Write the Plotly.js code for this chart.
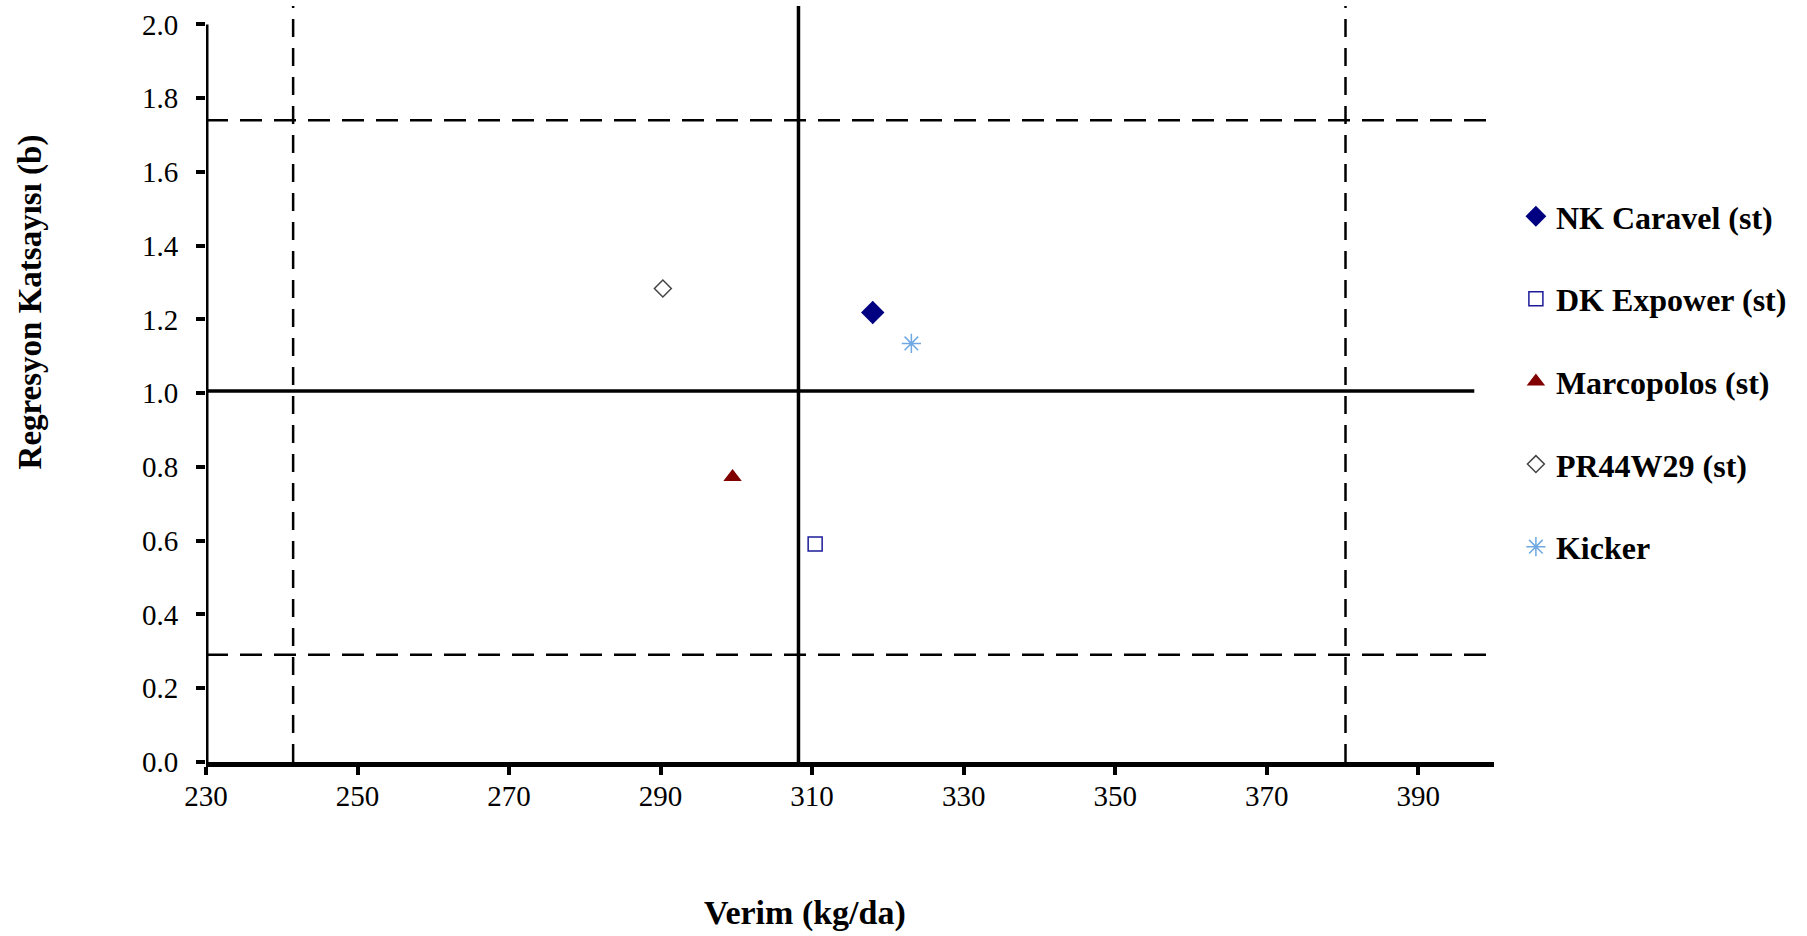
<!DOCTYPE html>
<html>
<head>
<meta charset="utf-8">
<script src="https://cdn.plot.ly/plotly-3.0.1.min.js"></script>
<style>html,body{margin:0;padding:0;background:#fff;}#chart{width:1807px;height:936px;}</style>
</head>
<body>
<div id="chart"></div>
<script>
// Data
const varieties = ["NK Caravel (st)", "DK Expower (st)", "Marcopolos (st)", "PR44W29 (st)", "Kicker"];
const yields = [318.0, 310.4, 299.5, 290.3, 323.1];          // Verim (kg/da)
const coefficients = [1.219, 0.591, 0.773, 1.284, 1.135];    // Regresyon katsayısı (b)
const meanYield = 308.2;                 // solid vertical line
const meanCoef = 1.006;                  // solid horizontal line
const yieldLimits = [241.5, 380.4];      // dashed vertical lines
const coefLimits = [0.291, 1.740];       // dashed horizontal lines
const xTicks = [230, 250, 270, 290, 310, 330, 350, 370, 390];
const yTicks = [0.0, 0.2, 0.4, 0.6, 0.8, 1.0, 1.2, 1.4, 1.6, 1.8, 2.0];
const xTitle = "Verim (kg/da)";
const yTitle = "Regresyon Katsayısı (b)";

const styles = [
  {symbol: "diamond", size: 18, color: "#000080", line: {width: 0}},
  {symbol: "square-open", size: 14, color: "#1c1c9a", line: {width: 1.5}},
  {symbol: "triangle-up", size: 16, color: "#800000", line: {width: 0}},
  {symbol: "diamond-open", size: 13, color: "#444444", line: {width: 1.5}},
  {symbol: "asterisk-open", size: 16, color: "#6fa8e2", line: {width: 1.5}}
];

const traces = varieties.map((name, i) => ({
  type: "scatter",
  mode: "markers",
  name: name,
  legendgroup: "g" + i,
  x: [yields[i]],
  y: [coefficients[i]],
  marker: Object.assign({}, styles[i], {line: Object.assign({color: styles[i].color}, styles[i].line)}),
  hoverinfo: "x+y+name"
}));

const serif = "Liberation Serif, Times New Roman, serif";
const xMin = 230, xMax = 400, yTop = 2.05;
const shapes = [];
// y axis line (stops at 2.0)
shapes.push({type: "line", xref: "x", yref: "y", x0: xMin, x1: xMin, y0: 0, y1: yTicks[yTicks.length - 1], line: {color: "#000", width: 5}});
// dashed vertical lines
yieldLimits.forEach(v => shapes.push({type: "line", xref: "x", yref: "y", x0: v, x1: v, y0: 0, y1: yTop, line: {color: "#000", width: 2.5, dash: "18px,11px"}}));
// dashed horizontal lines
coefLimits.forEach(v => shapes.push({type: "line", xref: "x", yref: "y", x0: xMin, x1: xMax, y0: v, y1: v, line: {color: "#000", width: 2.5, dash: "22px,12px"}}));
// solid reference lines
shapes.push({type: "line", xref: "x", yref: "y", x0: meanYield, x1: meanYield, y0: 0, y1: yTop, line: {color: "#000", width: 3.5}});
shapes.push({type: "line", xref: "x", yref: "y", x0: xMin, x1: 397.4, y0: meanCoef, y1: meanCoef, line: {color: "#000", width: 3.5}});

const layout = {
  width: 1807, height: 936,
  margin: {l: 206, r: 313, t: 6, b: 174},
  paper_bgcolor: "#fff", plot_bgcolor: "#fff",
  font: {family: serif, color: "#000", size: 29},
  showlegend: true,
  legend: {
    x: 1.017, y: 0.758, xanchor: "left", yanchor: "top",
    font: {family: serif, size: 32, color: "#000", weight: "bold"},
    tracegroupgap: 38, itemwidth: 30, bgcolor: "rgba(0,0,0,0)"
  },
  xaxis: {
    range: [xMin, xMax], tickvals: xTicks, ticktext: xTicks.map(String),
    showline: true, linecolor: "#000", linewidth: 5,
    ticks: "outside", ticklen: 8, tickwidth: 4, tickcolor: "#000",
    showgrid: false, zeroline: false, ticklabelstandoff: -4,
    tickfont: {size: 29, family: serif}
  },
  yaxis: {
    range: [0, yTop], tickvals: yTicks, ticktext: yTicks.map(v => v.toFixed(1)),
    showline: false,
    ticks: "outside", ticklen: 9, tickwidth: 4, tickcolor: "#000",
    showgrid: false, zeroline: false, ticklabelstandoff: 12,
    tickfont: {size: 29, family: serif}
  },
  annotations: [
    {text: xTitle, xref: "paper", yref: "paper", x: 0.465, y: -0.172, xanchor: "center", yanchor: "top",
     showarrow: false, font: {size: 34, weight: "bold", family: serif, color: "#000"}},
    {text: yTitle, xref: "paper", yref: "paper", x: -0.136, y: 0.609, xanchor: "center", yanchor: "middle",
     textangle: -90, showarrow: false, font: {size: 33, weight: "bold", family: serif, color: "#000"}}
  ],
  shapes: shapes
};

Plotly.newPlot("chart", traces, layout, {displayModeBar: false, staticPlot: true});
</script>
</body>
</html>
